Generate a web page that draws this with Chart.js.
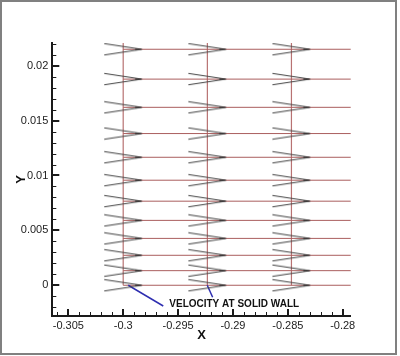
<!DOCTYPE html>
<html>
<head>
<meta charset="utf-8">
<script src="https://cdn.jsdelivr.net/npm/chart.js@4/dist/chart.umd.min.js"></script>
<style>
  html, body { margin: 0; padding: 0; background: #fff; }
  canvas { display: block; }
</style>
</head>
<body>
<canvas id="c" width="400" height="356"></canvas>
<script>
// ---- data ----
const xTickValues = [-0.305, -0.3, -0.295, -0.29, -0.285, -0.28];
const xTickLabels = ['-0.305', '-0.3', '-0.295', '-0.29', '-0.285', '-0.28'];
const yTickValues = [0, 0.005, 0.01, 0.015, 0.02];
const yTickLabels = ['0', '0.005', '0.01', '0.015', '0.02'];
const xRange = [-0.30646, -0.27927];
const yRange = [-0.0028, 0.02207];

// mesh columns and rows (stretched grid)
const meshX = [-0.3, -0.29233, -0.28467];
const meshY = [0, 0.00133, 0.00273, 0.00427, 0.00591, 0.00766, 0.00957, 0.01166, 0.01382, 0.01621, 0.01878, 0.0215];
const meshTop = 0.0221;
const meshRight = -0.2792;

// annotation
const noteText = 'VELOCITY AT SOLID WALL';
const notePos = { x: -0.2958, y: -0.00195 };
const noteLine1 = [{ x: -0.29954, y: 0.0 }, { x: -0.29635, y: -0.00189 }];
const noteLine2 = [{ x: -0.29234, y: 0.0 }, { x: -0.29185, y: -0.00109 }];

// ---- build ----
function makeArrow() {
  const c = document.createElement('canvas');
  c.width = 40; c.height = 14;
  const g = c.getContext('2d');
  g.strokeStyle = '#404040';
  g.lineWidth = 1;
  g.beginPath();
  g.moveTo(1, 1.3); g.lineTo(38.5, 7); g.lineTo(1, 12.7);
  g.stroke();
  g.fillStyle = '#303030';
  g.beginPath();
  g.moveTo(32, 6.2); g.lineTo(38.5, 7); g.lineTo(32, 7.8); g.closePath();
  g.fill();
  return c;
}
const arrowImg = makeArrow();

const nodes = [];
meshX.forEach(x => meshY.forEach(y => nodes.push({ x, y })));

const datasets = [];
datasets.push({ data: nodes, showLine: false, pointStyle: arrowImg, pointRadius: 5, order: 0 });
datasets.push({ data: noteLine1, showLine: true, borderColor: '#2e2eb0', borderWidth: 1.5, pointRadius: 0, order: 1 });
datasets.push({ data: noteLine2, showLine: true, borderColor: '#2e2eb0', borderWidth: 1.5, pointRadius: 0, order: 1 });
meshY.forEach(y => {
  datasets.push({ data: [{ x: meshX[0], y }, { x: meshRight, y }], showLine: true,
    borderColor: '#aa5e5e', borderWidth: 1, pointRadius: 0, order: 2 });
});
meshX.forEach(x => {
  datasets.push({ data: [{ x, y: meshY[0] }, { x, y: meshTop }], showLine: true,
    borderColor: '#b87272', borderWidth: 1.2, pointRadius: 0, order: 2 });
});

function isMajor(v, list) { return list.some(t => Math.abs(t - v) < 1e-9); }
function labelFor(v, vals, labels) {
  const i = vals.findIndex(t => Math.abs(t - v) < 1e-9);
  return i >= 0 ? labels[i] : '';
}
function minorTicks(lo, hi) {
  const out = [];
  for (let k = Math.ceil(lo * 1000 - 1e-9); k <= Math.floor(hi * 1000 + 1e-9); k++) out.push({ value: k / 1000 });
  return out;
}

const tickFont = { family: "'Liberation Sans', Arial, sans-serif", size: 11 };

const framePlugin = {
  id: 'frame',
  beforeDraw(chart) {
    const ctx = chart.ctx;
    ctx.save();
    ctx.fillStyle = '#fff';
    ctx.fillRect(0, 0, chart.width, chart.height);
    ctx.strokeStyle = '#808080';
    ctx.lineWidth = 2;
    ctx.strokeRect(1, 1, 395, 353);
    ctx.restore();
  },
  afterDraw(chart) {
    const ctx = chart.ctx;
    const xs = chart.scales.x, ys = chart.scales.y;
    const ca = chart.chartArea;
    ctx.save();
    ctx.strokeStyle = '#1a1a1a';
    xs.ticks.forEach(t => {
      const p = xs.getPixelForValue(t.value);
      const maj = isMajor(t.value, xTickValues);
      ctx.lineWidth = maj ? 2 : 1;
      ctx.beginPath();
      ctx.moveTo(Math.round(p) + (maj ? 0 : 0.5), ca.bottom);
      ctx.lineTo(Math.round(p) + (maj ? 0 : 0.5), ca.bottom - (maj ? 7 : 4));
      ctx.stroke();
    });
    ys.ticks.forEach(t => {
      const p = ys.getPixelForValue(t.value);
      const maj = isMajor(t.value, yTickValues);
      ctx.lineWidth = maj ? 2 : 1;
      ctx.beginPath();
      ctx.moveTo(ca.left, Math.round(p) + (maj ? 0 : 0.5));
      ctx.lineTo(ca.left + (maj ? 7 : 4), Math.round(p) + (maj ? 0 : 0.5));
      ctx.stroke();
    });
    // annotation text
    ctx.fillStyle = '#111';
    ctx.font = "bold 10px 'Liberation Sans', Arial, sans-serif";
    ctx.textAlign = 'left';
    ctx.textBaseline = 'alphabetic';
    ctx.fillText(noteText, xs.getPixelForValue(notePos.x), ys.getPixelForValue(notePos.y));
    ctx.restore();
  }
};

new Chart(document.getElementById('c'), {
  type: 'scatter',
  data: { datasets },
  options: {
    responsive: false,
    devicePixelRatio: 1,
    animation: false,
    events: [],
    layout: { padding: { left: 0, top: 43, right: 49.3, bottom: 0 } },
    plugins: { legend: { display: false }, tooltip: { enabled: false } },
    scales: {
      x: {
        type: 'linear', min: xRange[0], max: xRange[1],
        afterFit(s) { s.height = 40; },
        afterBuildTicks(s) { s.ticks = minorTicks(xRange[0], xRange[1]); },
        grid: { display: false, drawTicks: false },
        border: { display: true, color: '#1a1a1a', width: 2 },
        ticks: {
          autoSkip: false, maxRotation: 0, padding: 3, color: '#222', font: tickFont,
          callback: v => labelFor(v, xTickValues, xTickLabels)
        },
        title: { display: true, text: 'X', color: '#111',
          font: { family: "'Liberation Sans', Arial, sans-serif", size: 13, weight: 'bold' },
          padding: { top: 0, bottom: 13 } }
      },
      y: {
        type: 'linear', min: yRange[0], max: yRange[1],
        afterFit(s) { s.width = 52.3; },
        afterBuildTicks(s) { s.ticks = minorTicks(yRange[0], yRange[1]); },
        grid: { display: false, drawTicks: false },
        border: { display: true, color: '#1a1a1a', width: 2 },
        ticks: {
          autoSkip: false, padding: 4, color: '#222', font: tickFont,
          callback: v => labelFor(v, yTickValues, yTickLabels)
        },
        title: { display: true, text: 'Y', color: '#111',
          font: { family: "'Liberation Sans', Arial, sans-serif", size: 13, weight: 'bold' },
          padding: { top: 14, bottom: 0 } }
      }
    }
  },
  plugins: [framePlugin]
});
</script>
</body>
</html>
